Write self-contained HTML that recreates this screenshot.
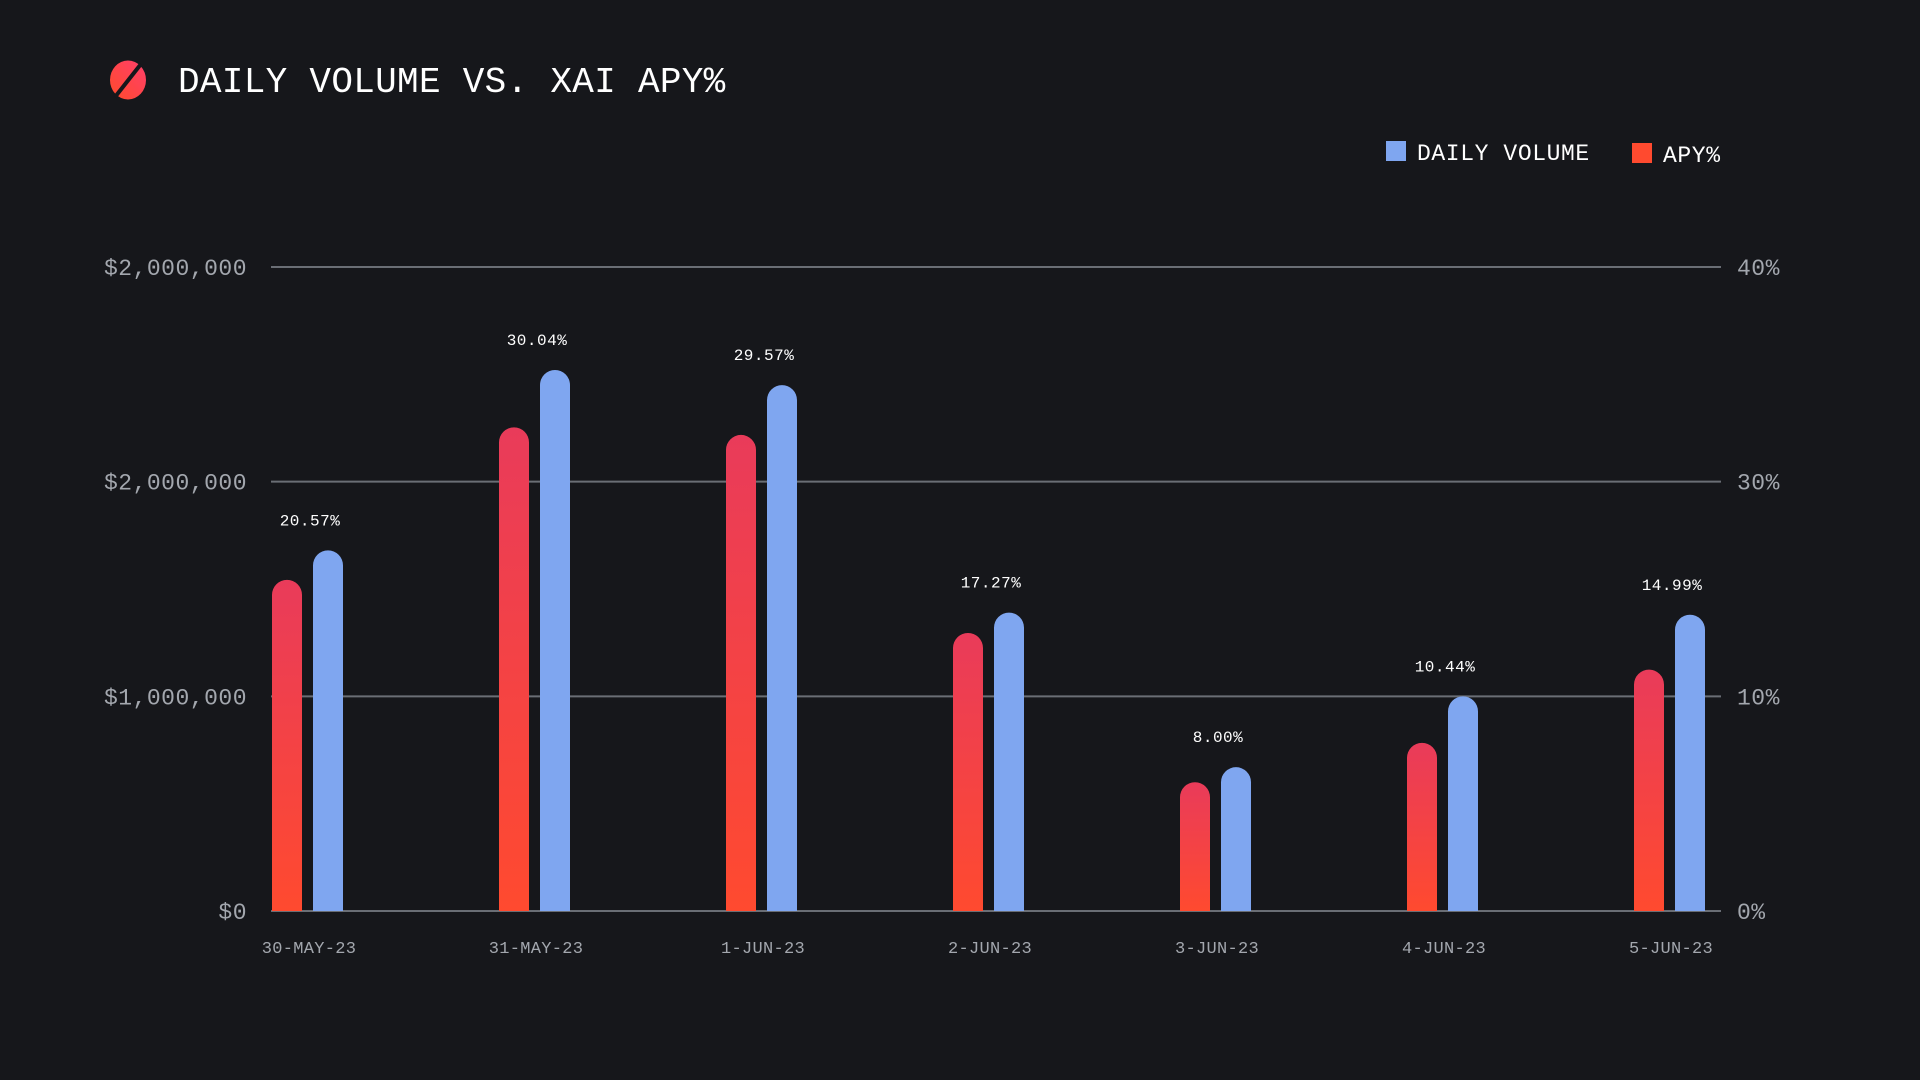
<!DOCTYPE html>
<html><head><meta charset="utf-8"><style>
html,body{margin:0;padding:0;background:#16171b;width:1920px;height:1080px;overflow:hidden}
svg{display:block}
text{font-family:"Liberation Mono","DejaVu Sans Mono",monospace}
</style></head><body>
<svg id="chart" width="1920" height="1080" viewBox="0 0 1920 1080">
<defs>
<linearGradient id="redGrad" x1="0" y1="0" x2="0" y2="1">
<stop offset="0" stop-color="#e93b5a"/><stop offset="1" stop-color="#ff4a2f"/></linearGradient>
<linearGradient id="iconGrad" x1="1" y1="0" x2="0" y2="1">
<stop offset="0" stop-color="#ff3f6c"/><stop offset="1" stop-color="#ff4a2a"/></linearGradient>
</defs>
<g>
<ellipse cx="128" cy="80" rx="18" ry="19.5" fill="url(#iconGrad)"/>
<line x1="141" y1="64" x2="115" y2="97" stroke="#16171b" stroke-width="4"/>
<text x="178" y="92" fill="#ffffff" font-size="36" letter-spacing="0.3">DAILY VOLUME VS. XAI APY%</text>
</g>
<g>
<rect x="1386" y="141" width="20" height="20" fill="#7fa6f0"/>
<text x="1417" y="160" fill="#ffffff" font-size="23" letter-spacing="0.6">DAILY VOLUME</text>
<rect x="1632" y="143" width="20" height="20" fill="#ff4a2f"/>
<text x="1663" y="162" fill="#ffffff" font-size="23" letter-spacing="0.6">APY%</text>
</g>
<g id="grid"></g>
<g id="bars"></g>
<g id="labels"></g>
</svg>
<script>
const categories=["30-MAY-23","31-MAY-23","1-JUN-23","2-JUN-23","3-JUN-23","4-JUN-23","5-JUN-23"];
const volume=[1680000,2520000,2450000,1390000,670000,1000000,1380000];
const apy=[20.57,30.04,29.57,17.27,8.00,10.44,14.99];
const apyLabels=["20.57%","30.04%","29.57%","17.27%","8.00%","10.44%","14.99%"];
const leftTicks=[0,1000000,2000000,3000000];
const leftTickLabels=["$0","$1,000,000","$2,000,000","$2,000,000"];
const rightTicks=[0,10,30,40];
const rightTickLabels=["0%","10%","30%","40%"];
const rightTickPos=[0,1000000,2000000,3000000];

const NS="http://www.w3.org/2000/svg";
const plotL=271,plotR=1721,base=911,plotTop=267;
const yVol=v=>base-(v/3000000)*(base-plotTop);
const yApy=v=>base-(v/40)*(base-plotTop);
const xC=i=>309+i*227;
function mk(tag,attrs,parent){const e=document.createElementNS(NS,tag);for(const k in attrs)e.setAttribute(k,attrs[k]);parent.appendChild(e);return e;}
const grid=document.getElementById('grid'),bars=document.getElementById('bars'),labels=document.getElementById('labels');
leftTicks.forEach((t,i)=>{
  const y=yVol(t);
  const l=mk('line',{x1:plotL,x2:plotR,y1:y,y2:y,stroke:'#6a6e75','stroke-width':2},grid);
  
  
  const tx=mk('text',{x:247,y:y+8,'text-anchor':'end',fill:'#a3a7ae','font-size':23,'letter-spacing':0.5},grid);
  tx.textContent=leftTickLabels[i];
  
  
});
rightTicks.forEach((t,i)=>{
  const y=yVol(rightTickPos[i]);
  const tx=mk('text',{x:1737,y:y+8,fill:'#a3a7ae','font-size':23,'letter-spacing':0.5},grid);
  tx.textContent=rightTickLabels[i];
  
  
});
function bar(x,y,w,fill){
  const r=w/2;
  const d=`M${x},${base} L${x},${y+r} A${r},${r} 0 0 1 ${x+w},${y+r} L${x+w},${base} Z`;
  return mk('path',{d:d,fill:fill},bars);
}
categories.forEach((c,i)=>{
  const cx=xC(i);
  const rb=bar(cx-37,yApy(apy[i]),30,'url(#redGrad)');
  
  
  const bb=bar(cx+4,yVol(volume[i]),30,'#7fa6f0');
  
  
  const vl=mk('text',{x:cx+1,y:Math.min(yVol(volume[i]),yApy(apy[i]))-25,'text-anchor':'middle',fill:'#ffffff','font-size':16,'letter-spacing':0.5},labels);
  vl.textContent=apyLabels[i];
  
  
  const xl=mk('text',{x:cx,y:953,'text-anchor':'middle',fill:'#a3a7ae','font-size':17,'letter-spacing':0.3},labels);
  xl.textContent=c;
  
  
});
</script>
</body></html>
